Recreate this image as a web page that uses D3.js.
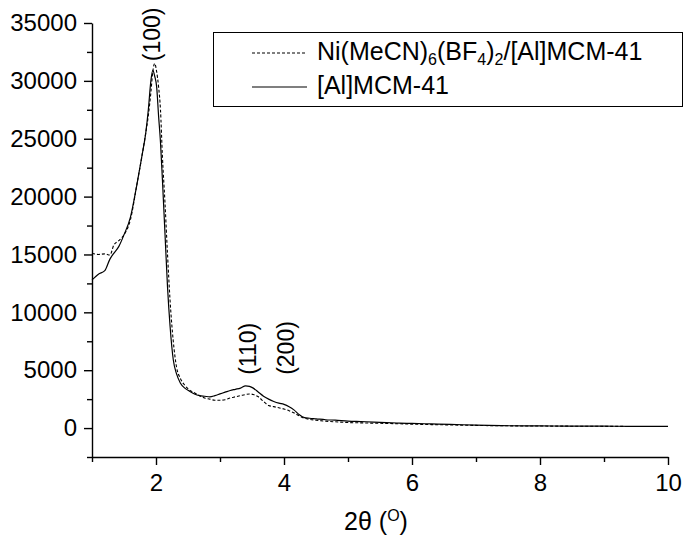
<!DOCTYPE html>
<html>
<head>
<meta charset="utf-8">
<script src="https://cdn.jsdelivr.net/npm/d3@7"></script>
<style>
  html, body { margin: 0; padding: 0; background: #fff; }
  svg { display: block; }
  text { font-family: "Liberation Sans", Arial, sans-serif; fill: #000; }
</style>
</head>
<body>
<svg id="chart" width="684" height="541"></svg>
<script>
// 2-theta grid (degrees) shared by both diffractograms
const twoTheta = [1.00,1.10,1.20,1.28,1.34,1.42,1.50,1.60,1.70,1.78,1.84,1.88,1.92,1.95,1.98,2.01,2.04,2.07,2.10,2.14,2.18,2.22,2.27,2.32,2.38,2.45,2.52,2.60,2.68,2.76,2.84,2.92,3.00,3.08,3.16,3.24,3.32,3.40,3.46,3.52,3.60,3.68,3.76,3.84,3.92,4.00,4.08,4.16,4.24,4.32,4.40,4.50,4.65,4.80,5.00,5.20,5.40,5.60,5.80,6.00,6.30,6.60,7.00,7.40,7.80,8.20,8.60,9.00,9.40,9.80,10.00];

// Ni(MeCN)6(BF4)2/[Al]MCM-41 intensities (dashed)
const niIntensity = [15100,15000,15050,14950,15800,16200,16700,18000,21000,23500,25500,27000,29000,30800,31500,30800,29500,27500,23500,19500,15000,11000,7500,5300,4300,3700,3300,3050,2800,2600,2500,2400,2400,2450,2600,2700,2800,2900,2950,2900,2700,2300,1950,1850,1750,1650,1500,1300,1050,850,750,680,600,540,480,450,420,400,370,340,300,270,230,200,180,170,160,150,140,135,140];

// [Al]MCM-41 intensities (solid)
const alIntensity = [12800,13300,13600,14600,15100,15700,16700,18200,21000,23500,25500,27500,30000,30900,30400,29500,27000,24700,21500,16850,12200,8800,5900,4700,3900,3450,3200,2950,2800,2750,2700,2800,2950,3100,3250,3350,3450,3650,3600,3450,3100,2750,2500,2300,2150,2050,1850,1550,1150,900,850,800,720,680,600,560,520,470,430,400,360,320,250,210,190,180,170,160,150,145,150];

const xMajorTicks = [2,4,6,8,10];
const xMinorTicks = [1,3,5,7,9];
const yMajorTicks = [0,5000,10000,15000,20000,25000,30000,35000];
const yMinorTicks = [-2500,2500,7500,12500,17500,22500,27500,32500];

// Reflection labels: [label, 2-theta, intensity at the label's foot]
const peakLabels = [["(100)",1.94,31700],["(110)",3.44,4600],["(200)",4.03,4600]];

const seriesNames = ["Ni(MeCN)6(BF4)2/[Al]MCM-41","[Al]MCM-41"];

const svg = d3.select("#chart");
const W = 684, H = 541;
svg.append("rect").attr("width", W).attr("height", H).attr("fill", "#fff");

const x = d3.scaleLinear().domain([1, 10]).range([92, 668]);
const y = d3.scaleLinear().domain([-2500, 35000]).range([457, 23]);

const fs = 24;

// X axis
const gx = svg.append("g").attr("transform", `translate(0,${y(-2500)})`);
gx.call(d3.axisBottom(x).tickValues(xMajorTicks).tickSize(8).tickSizeOuter(0).tickPadding(9).tickFormat(d3.format("d")));
gx.append("g").call(d3.axisBottom(x).tickValues(xMinorTicks).tickSize(5).tickSizeOuter(0).tickFormat(""))
  .select(".domain").remove();

// Y axis
const gy = svg.append("g").attr("transform", `translate(${x(1)},0)`);
gy.call(d3.axisLeft(y).tickValues(yMajorTicks).tickSize(8).tickSizeOuter(0).tickPadding(7).tickFormat(d3.format("d")));
gy.append("g").call(d3.axisLeft(y).tickValues(yMinorTicks).tickSize(5).tickSizeOuter(0).tickFormat(""))
  .select(".domain").remove();

svg.selectAll(".domain").attr("stroke", "#000").attr("stroke-width", 1.4);
svg.selectAll(".tick line").attr("stroke", "#000").attr("stroke-width", 1.4);
svg.selectAll(".tick text").attr("font-size", fs).attr("font-family", "Liberation Sans, Arial, sans-serif").attr("fill", "#000");

// Curves
const line = d3.line().x((d, i) => x(twoTheta[i])).y(d => y(d)).curve(d3.curveMonotoneX);

svg.append("path").datum(niIntensity)
  .attr("d", line).attr("fill", "none").attr("stroke", "#000")
  .attr("stroke-width", 1.1).attr("stroke-dasharray", "3,2");

svg.append("path").datum(alIntensity)
  .attr("d", line).attr("fill", "none").attr("stroke", "#000")
  .attr("stroke-width", 1.2);

// Reflection labels
peakLabels.forEach(([t, px, py]) => {
  svg.append("text")
    .attr("transform", `translate(${x(px)},${y(py)}) rotate(-90)`)
    .attr("dy", "0.35em")
    .attr("font-size", 23)
    .attr("text-anchor", "start")
    .text(t);
});

// Legend
const lg = svg.append("g");
lg.append("rect").attr("x", 213.5).attr("y", 32.5).attr("width", 469).attr("height", 74)
  .attr("fill", "#fff").attr("stroke", "#000").attr("stroke-width", 1);

const rows = [{y: 60, dash: "3,2"}, {y: 94, dash: null}];
rows.forEach((r, i) => {
  const l = lg.append("line").attr("x1", 252).attr("x2", 307)
    .attr("y1", r.y - 7).attr("y2", r.y - 7)
    .attr("stroke", "#000").attr("stroke-width", 1.1);
  if (r.dash) l.attr("stroke-dasharray", r.dash);
});

// First legend entry with subscripts
const lfs = 25;
const t1 = lg.append("text").attr("x", 317).attr("y", rows[0].y).attr("font-size", lfs);
const parts = [["Ni(MeCN)", false], ["6", true], ["(BF", false], ["4", true], [")", false], ["2", true], ["/[Al]MCM-41", false]];
parts.forEach(([s, sub]) => {
  const ts = t1.append("tspan").text(s);
  if (sub) ts.attr("font-size", 16).attr("baseline-shift", "-5px");
});
lg.append("text").attr("x", 317).attr("y", rows[1].y).attr("font-size", lfs).text(seriesNames[1]);

// X axis title
const xt = svg.append("text").attr("x", 376).attr("y", 530).attr("text-anchor", "middle").attr("font-size", 25);
xt.append("tspan").text("2θ (");
xt.append("tspan").text("O").attr("font-size", 16).attr("baseline-shift", "9px");
xt.append("tspan").text(")");
</script>
</body>
</html>
